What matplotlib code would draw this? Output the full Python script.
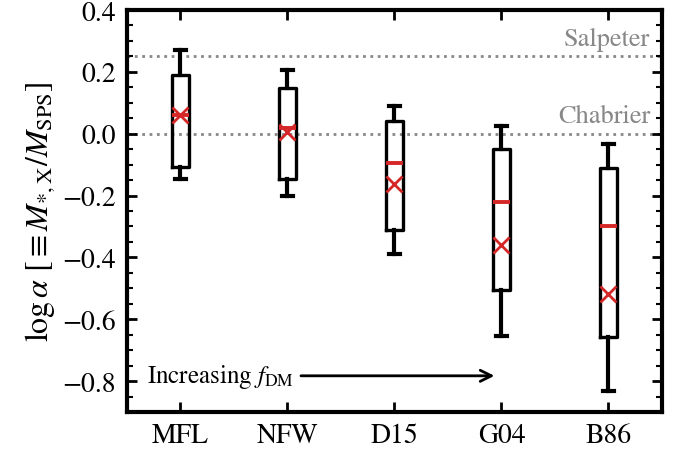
import matplotlib
matplotlib.use('Agg')
import matplotlib.pyplot as plt

# Data

models = ['MFL', 'NFW', 'D15', 'G04', 'B86']
whisker_low = [-0.145, -0.203, -0.389, -0.653, -0.831]
box_low = [-0.108, -0.146, -0.311, -0.507, -0.658]
medians = [0.062, 0.019, -0.096, -0.222, -0.300]
box_high = [0.191, 0.148, 0.041, -0.051, -0.110]
whisker_high = [0.270, 0.205, 0.090, 0.025, -0.032]
means = [0.060, 0.005, -0.162, -0.361, -0.520]

imf_names = ['Salpeter', 'Chabrier']
imf_levels = [0.25, 0.0]

plt.rcParams['font.family'] = 'STIXGeneral'
plt.rcParams['mathtext.fontset'] = 'stix'

RED = '#d62728'
GREY = '#888888'

fig = plt.figure(figsize=(6.85, 4.52), dpi=100)
ax = fig.add_axes([0.1854, 0.0863, 0.7810, 0.8894])

positions = list(range(1, len(models) + 1))

# build box stats for bxp
stats = []
for i in range(len(models)):
    stats.append({'whislo': whisker_low[i], 'q1': box_low[i], 'med': medians[i],
                  'q3': box_high[i], 'whishi': whisker_high[i], 'mean': means[i],
                  'fliers': [], 'label': models[i]})

ax.bxp(stats, positions=positions, widths=0.16, showmeans=True, showfliers=False,
       boxprops=dict(color='black', linewidth=2.4),
       whiskerprops=dict(color='black', linewidth=3),
       capprops=dict(color='black', linewidth=3),
       capwidths=0.11,
       medianprops=dict(color=RED, linewidth=2.8),
       meanprops=dict(marker='x', markeredgecolor=RED, markersize=11,
                      markeredgewidth=2),
       zorder=3)

# IMF reference lines
for name, level in zip(imf_names, imf_levels):
    ax.axhline(level, color=GREY, linestyle=':', linewidth=2, zorder=1)
    ax.text(5.39, level + 0.018, name, color=GREY, fontsize=19,
            ha='right', va='bottom')

ax.text(0.69, -0.783, r'Increasing $f_{\rm DM}$', fontsize=18,
        ha='left', va='center')
ax.annotate('', xy=(3.96, -0.783), xytext=(2.1, -0.783),
            arrowprops=dict(arrowstyle='->', color='black', linewidth=2,
                            mutation_scale=20))

ax.set_xlim(0.5, 5.5)
ax.set_ylim(-0.9, 0.4)
ax.set_xticks(positions)
ax.set_xticklabels(models)
ax.set_yticks([-0.8, -0.6, -0.4, -0.2, 0.0, 0.2, 0.4])
ax.set_yticks([i * 0.05 - 0.9 for i in range(27)], minor=True)
ax.set_ylabel(r'$\log\alpha\ [\equiv M_{*,{\rm X}}/M_{\rm SPS}]$', fontsize=23,
              labelpad=4)

ax.tick_params(axis='both', which='major', direction='in', length=7, width=2,
               labelsize=20, top=True, right=True, pad=8)
ax.tick_params(axis='y', which='minor', direction='in', length=4, width=1.5,
               right=True)
ax.tick_params(axis='x', which='minor', bottom=False, top=False)
for spine in ax.spines.values():
    spine.set_linewidth(3)

fig.savefig('out.png', dpi=100)
